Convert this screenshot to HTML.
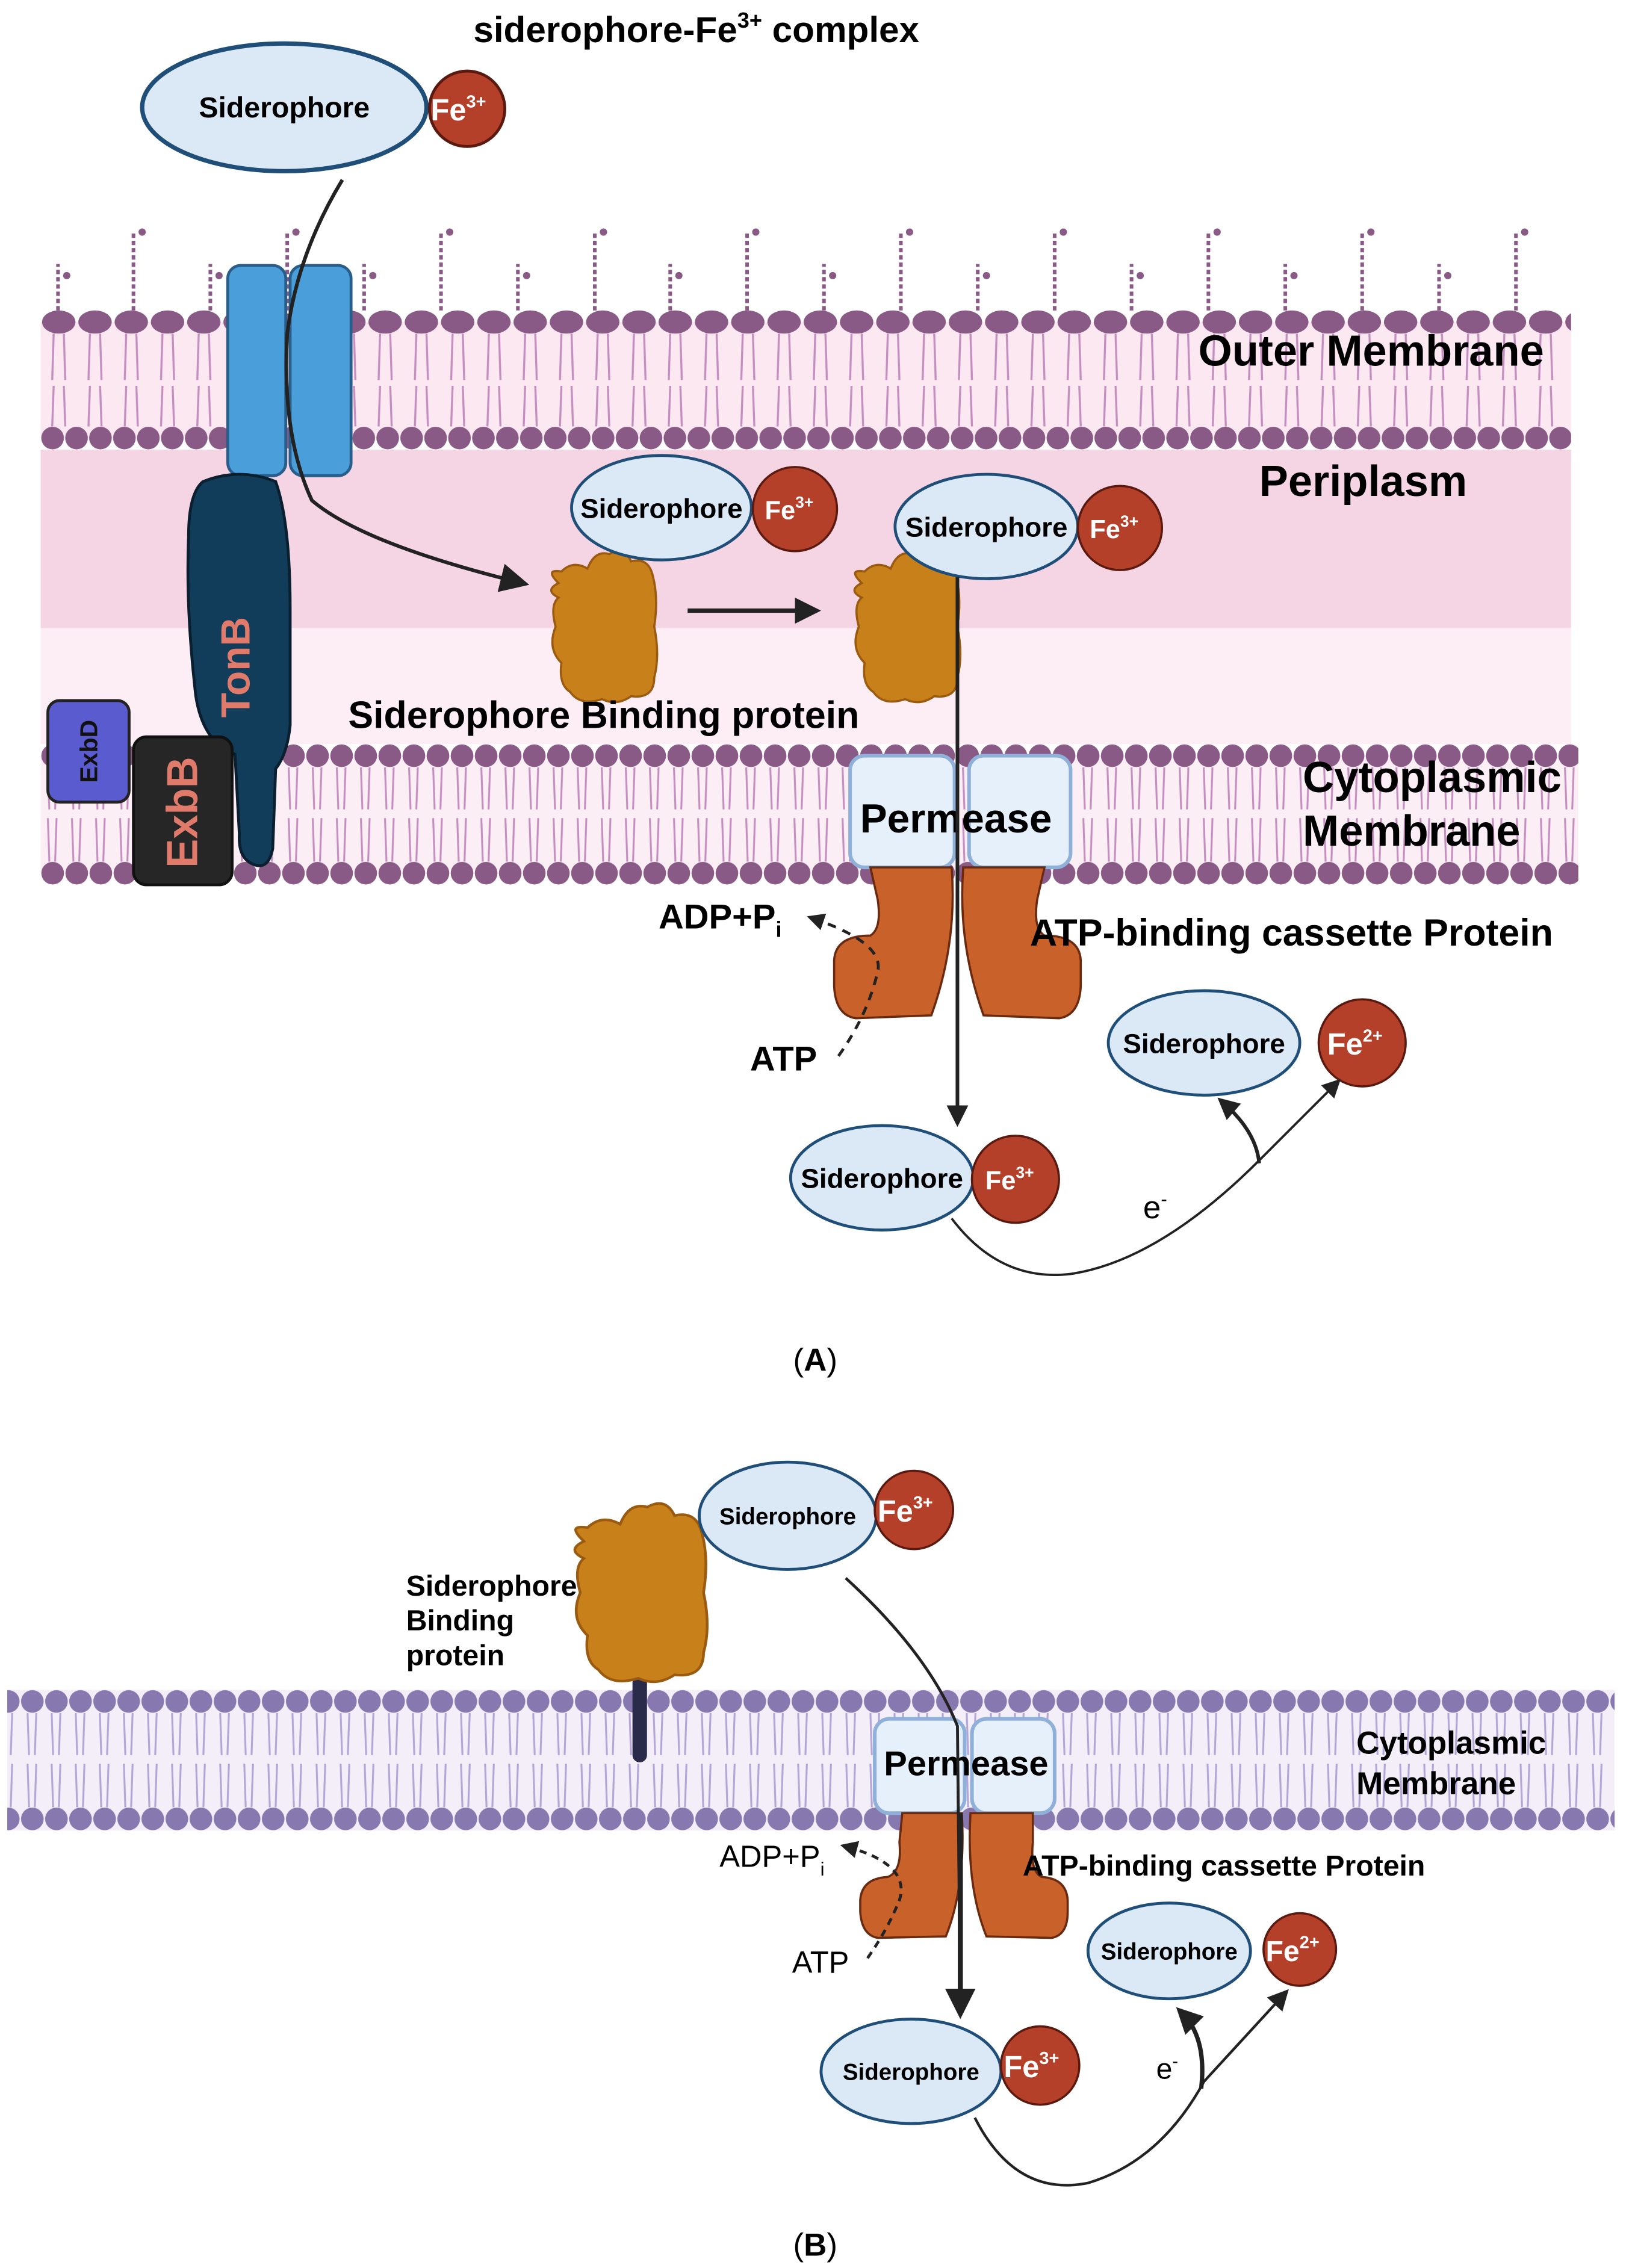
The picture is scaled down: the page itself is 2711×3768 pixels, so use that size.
<!DOCTYPE html>
<html><head><meta charset="utf-8"><style>
html,body{margin:0;padding:0;background:#fff;}
svg{display:block;}
text{font-family:"Liberation Sans",sans-serif;}
</style></head><body>
<svg width="2711" height="3768" viewBox="0 0 1125 1563.6" preserveAspectRatio="none" xmlns="http://www.w3.org/2000/svg">
<defs>
<pattern id="omTop" x="28" y="0" width="25" height="1000" patternUnits="userSpaceOnUse">
<ellipse cx="12.5" cy="222" rx="11.5" ry="8" fill="#8a5a86"/>
<path d="M9 230 L8 262 M16 230 L17 262 M9 266 L8 294 M16 266 L17 294" stroke="#c58ec0" stroke-width="1.4" fill="none"/>
</pattern>
<pattern id="omBot" x="28" y="0" width="16.5" height="1000" patternUnits="userSpaceOnUse">
<circle cx="8.25" cy="302" r="7.8" fill="#8a5a86"/>
</pattern>
<pattern id="cmA" x="28" y="0" width="16.6" height="1000" patternUnits="userSpaceOnUse">
<circle cx="8.3" cy="521" r="7.8" fill="#8a5a86"/>
<circle cx="8.3" cy="602" r="7.8" fill="#8a5a86"/>
<path d="M5 529 L6 558 M11 529 L10 558 M5 564 L6 594 M11 564 L10 594" stroke="#c58ec0" stroke-width="1.3" fill="none"/>
</pattern>
<pattern id="cmB" x="14" y="0" width="16.6" height="1600" patternUnits="userSpaceOnUse">
<circle cx="8.3" cy="1173" r="7.8" fill="#8878b0"/>
<circle cx="8.3" cy="1254" r="7.8" fill="#8878b0"/>
<path d="M5 1181 L6 1210 M11 1181 L10 1210 M5 1216 L6 1246 M11 1216 L10 1246" stroke="#b3a6d6" stroke-width="1.3" fill="none"/>
</pattern>
<path id="blob" d="M -30 -30 Q -40 -40 -28 -38 Q -20 -46 -10 -40 Q -5 -53 5 -50 Q 15 -56 20 -45 Q 32 -48 35 -35 Q 39 -20 36 0 Q 40 20 36 35 Q 36 50 20 48 Q 10 55 0 50 Q -15 55 -22 45 Q -30 40 -28 25 Q -38 15 -32 0 Q -36 -15 -30 -20 Q -40 -25 -30 -30 Z" fill="#c8801a" stroke="#9a5a10" stroke-width="1.5"/>
<marker id="ah" markerWidth="8" markerHeight="8" refX="6" refY="4" orient="auto" markerUnits="strokeWidth"><path d="M0 0 L8 4 L0 8 Z" fill="#222"/></marker>
<marker id="ahs" markerWidth="6" markerHeight="6" refX="4" refY="3" orient="auto" markerUnits="strokeWidth"><path d="M0 0 L6 3 L0 6 Z" fill="#222"/></marker>
</defs>

<!-- ===== PANEL A ===== -->
<text x="480" y="29" font-size="25" font-weight="bold" text-anchor="middle">siderophore-Fe<tspan font-size="15" dy="-10">3+</tspan><tspan dy="10"> complex</tspan></text>
<ellipse cx="196" cy="74" rx="98" ry="44" fill="#dbe9f7" stroke="#1f4e79" stroke-width="3"/>
<text x="196" y="81" font-size="20" font-weight="bold" text-anchor="middle">Siderophore</text>
<circle cx="322" cy="75" r="26" fill="#b5402a" stroke="#5a1a10" stroke-width="2"/>
<text x="316" y="83" font-size="21" font-weight="bold" fill="#fff" text-anchor="middle">Fe<tspan font-size="12" dy="-9">3+</tspan></text>

<!-- LPS -->
<g stroke="#8a5a86" stroke-width="2.5" stroke-dasharray="3 2" fill="none">
<path d="M40 214 V182 M92 214 V160 M145 214 V182 M198 214 V160 M251 214 V182 M304 214 V160 M357 214 V182 M410 214 V160 M462 214 V182 M515 214 V160 M568 214 V182 M621 214 V160 M674 214 V182 M727 214 V160 M780 214 V182 M833 214 V160 M886 214 V182 M939 214 V160 M992 214 V182 M1045 214 V160"/>
</g>
<g fill="#8a5a86">
<circle cx="46" cy="190" r="2.5"/><circle cx="98" cy="160" r="2.5"/><circle cx="151" cy="190" r="2.5"/><circle cx="204" cy="160" r="2.5"/><circle cx="257" cy="190" r="2.5"/><circle cx="310" cy="160" r="2.5"/><circle cx="363" cy="190" r="2.5"/><circle cx="416" cy="160" r="2.5"/><circle cx="468" cy="190" r="2.5"/><circle cx="521" cy="160" r="2.5"/><circle cx="574" cy="190" r="2.5"/><circle cx="627" cy="160" r="2.5"/><circle cx="680" cy="190" r="2.5"/><circle cx="733" cy="160" r="2.5"/><circle cx="786" cy="190" r="2.5"/><circle cx="839" cy="160" r="2.5"/><circle cx="892" cy="190" r="2.5"/><circle cx="945" cy="160" r="2.5"/><circle cx="998" cy="190" r="2.5"/><circle cx="1051" cy="160" r="2.5"/>
</g>

<!-- outer membrane -->
<rect x="28" y="222" width="1055" height="80" fill="#fbe8f1"/>
<rect x="28" y="213" width="1055" height="90" fill="url(#omTop)"/>
<rect x="28" y="293" width="1055" height="18" fill="url(#omBot)"/>
<!-- periplasm -->
<rect x="28" y="310" width="1055" height="123" fill="#f5d5e3"/>
<rect x="28" y="433" width="1055" height="80" fill="#fdeef5"/>
<!-- cytoplasmic membrane -->
<rect x="28" y="521" width="1060" height="81" fill="#fbeef4"/>
<rect x="28" y="512" width="1060" height="100" fill="url(#cmA)"/>

<!-- channel -->
<rect x="157" y="183" width="40" height="145" rx="9" fill="#4a9fdb" stroke="#2a5e8a" stroke-width="2"/>
<rect x="200" y="183" width="42" height="145" rx="9" fill="#4a9fdb" stroke="#2a5e8a" stroke-width="2"/>
<!-- TonB -->
<path d="M140 332 Q165 322 190 332 Q200 360 200 420 L200 500 Q198 520 190 530 L188 585 Q185 600 175 596 Q164 592 165 575 L162 520 Q140 512 135 480 Q128 420 130 370 Q130 340 140 332 Z" fill="#123d5a" stroke="#0a2030" stroke-width="2"/>
<text transform="translate(172,460) rotate(-90)" font-size="28" font-weight="bold" fill="#e07a6a" text-anchor="middle">TonB</text>
<!-- ExbD / ExbB -->
<rect x="33" y="483" width="56" height="70" rx="8" fill="#5b5bd0" stroke="#222" stroke-width="2"/>
<text transform="translate(67,518) rotate(-90)" font-size="17" font-weight="bold" fill="#111" text-anchor="middle">ExbD</text>
<rect x="92" y="508" width="68" height="102" rx="9" fill="#262626" stroke="#111" stroke-width="2"/>
<text transform="translate(136,560) rotate(-90)" font-size="30" font-weight="bold" fill="#e07a6a" text-anchor="middle">ExbB</text>

<!-- path through channel -->
<path d="M236 124 Q205 175 198 230 Q194 300 215 345 Q250 375 360 402" stroke="#222" stroke-width="2.5" fill="none" marker-end="url(#ah)"/>

<text x="826" y="252" font-size="30" font-weight="bold">Outer Membrane</text>
<text x="868" y="342" font-size="30" font-weight="bold">Periplasm</text>
<text x="898" y="546" font-size="30" font-weight="bold">Cytoplasmic</text>
<text x="898" y="583" font-size="30" font-weight="bold">Membrane</text>

<use href="#blob" transform="translate(415,432)"/>
<ellipse cx="456" cy="350" rx="62" ry="36" fill="#dbe9f7" stroke="#1f4e79" stroke-width="2"/>
<text x="456" y="357" font-size="19" font-weight="bold" text-anchor="middle">Siderophore</text>
<circle cx="548" cy="351" r="29" fill="#b5402a" stroke="#5a1a10" stroke-width="1.5"/>
<text x="544" y="358" font-size="18" font-weight="bold" fill="#fff" text-anchor="middle">Fe<tspan font-size="11" dy="-8">3+</tspan></text>

<line x1="474" y1="421" x2="560" y2="421" stroke="#222" stroke-width="3" marker-end="url(#ahs)"/>

<use href="#blob" transform="translate(624,432)"/>
<ellipse cx="680" cy="363" rx="63" ry="36" fill="#dbe9f7" stroke="#1f4e79" stroke-width="2"/>
<text x="680" y="370" font-size="19" font-weight="bold" text-anchor="middle">Siderophore</text>
<circle cx="772" cy="364" r="29" fill="#b5402a" stroke="#5a1a10" stroke-width="1.5"/>
<text x="768" y="371" font-size="18" font-weight="bold" fill="#fff" text-anchor="middle">Fe<tspan font-size="11" dy="-8">3+</tspan></text>

<text x="240" y="502" font-size="26" font-weight="bold">Siderophore Binding protein</text>

<!-- permease -->
<rect x="586" y="521" width="72" height="77" rx="10" fill="#e6f0fb" stroke="#8fb0d8" stroke-width="2.5"/>
<rect x="668" y="521" width="70" height="77" rx="10" fill="#e6f0fb" stroke="#8fb0d8" stroke-width="2.5"/>
<!-- ABC -->
<path d="M600 598 L656 598 Q660 650 642 700 L590 702 Q576 700 575 680 L575 662 Q576 645 600 645 Q608 640 605 620 Z" fill="#c8612a" stroke="#6a2a10" stroke-width="1.5"/>
<path d="M720 598 L664 598 Q660 650 678 700 L730 702 Q744 700 745 680 L745 662 Q744 645 720 645 Q712 640 715 620 Z" fill="#c8612a" stroke="#6a2a10" stroke-width="1.5"/>
<text x="659" y="574" font-size="28" font-weight="bold" text-anchor="middle">Permease</text>
<line x1="660" y1="398" x2="660" y2="772" stroke="#222" stroke-width="2.5" marker-end="url(#ahs)"/>

<text x="454" y="640" font-size="24" font-weight="bold">ADP+P<tspan font-size="15" dy="6">i</tspan></text>
<path d="M578 728 Q598 700 605 670 Q610 650 560 633" stroke="#222" stroke-width="2" stroke-dasharray="6 5" fill="none" marker-end="url(#ahs)"/>
<text x="517" y="738" font-size="24" font-weight="bold">ATP</text>
<text x="710" y="652" font-size="26" font-weight="bold">ATP-binding cassette Protein</text>

<ellipse cx="830" cy="719" rx="66" ry="36" fill="#dbe9f7" stroke="#1f4e79" stroke-width="2"/>
<text x="830" y="726" font-size="19" font-weight="bold" text-anchor="middle">Siderophore</text>
<circle cx="939" cy="719" r="30" fill="#b5402a" stroke="#5a1a10" stroke-width="1.5"/>
<text x="934" y="727" font-size="21" font-weight="bold" fill="#fff" text-anchor="middle">Fe<tspan font-size="12" dy="-9">2+</tspan></text>

<ellipse cx="608" cy="812" rx="63" ry="36" fill="#dbe9f7" stroke="#1f4e79" stroke-width="2"/>
<text x="608" y="819" font-size="19" font-weight="bold" text-anchor="middle">Siderophore</text>
<circle cx="700" cy="813" r="30" fill="#b5402a" stroke="#5a1a10" stroke-width="1.5"/>
<text x="696" y="820" font-size="18" font-weight="bold" fill="#fff" text-anchor="middle">Fe<tspan font-size="11" dy="-8">3+</tspan></text>

<path d="M656 840 Q690 885 740 878 Q800 868 868 800 L922 746" stroke="#222" stroke-width="1.6" fill="none" marker-end="url(#ah)"/>
<path d="M868 802 Q866 780 843 760" stroke="#222" stroke-width="2.5" fill="none" marker-end="url(#ahs)"/>
<text x="788" y="840" font-size="22">e<tspan font-size="13" dy="-9">-</tspan></text>

<text x="562" y="945" font-size="22" font-family="Liberation Serif" text-anchor="middle">(<tspan font-weight="bold">A</tspan>)</text>

<!-- ===== PANEL B ===== -->
<rect x="5" y="1165" width="1108" height="97" fill="#f4eef8"/>
<rect x="5" y="1164" width="1108" height="100" fill="url(#cmB)"/>
<line x1="441" y1="1160" x2="441" y2="1210" stroke="#2a2a4a" stroke-width="10" stroke-linecap="round"/>
<use href="#blob" transform="translate(440,1098) scale(1.25,1.18)"/>
<ellipse cx="543" cy="1045" rx="61" ry="37" fill="#dbe9f7" stroke="#1f4e79" stroke-width="2"/>
<text x="543" y="1051" font-size="16" font-weight="bold" text-anchor="middle">Siderophore</text>
<circle cx="630" cy="1041" r="27" fill="#b5402a" stroke="#5a1a10" stroke-width="1.5"/>
<text x="624" y="1049" font-size="21" font-weight="bold" fill="#fff" text-anchor="middle">Fe<tspan font-size="12" dy="-9">3+</tspan></text>
<text font-size="20" font-weight="bold"><tspan x="280" y="1100">Siderophore</tspan><tspan x="280" y="1124">Binding</tspan><tspan x="280" y="1148">protein</tspan></text>

<rect x="603" y="1185" width="62" height="65" rx="10" fill="#e6f0fb" stroke="#8fb0d8" stroke-width="2.5"/>
<rect x="670" y="1185" width="57" height="65" rx="10" fill="#e6f0fb" stroke="#8fb0d8" stroke-width="2.5"/>
<path d="M622 1250 L663 1250 Q666 1300 652 1335 L605 1336 Q594 1334 593 1318 L593 1310 Q594 1295 612 1294 Q622 1290 620 1270 Z" fill="#c8612a" stroke="#6a2a10" stroke-width="1.5"/>
<path d="M712 1250 L669 1250 Q666 1300 680 1335 L725 1336 Q736 1334 736 1318 L736 1310 Q735 1295 718 1294 Q710 1290 712 1270 Z" fill="#c8612a" stroke="#6a2a10" stroke-width="1.5"/>
<text x="666" y="1224" font-size="24" font-weight="bold" text-anchor="middle">Permease</text>
<path d="M583 1088 Q640 1140 660 1190 L662 1385" stroke="#222" stroke-width="2" fill="none"/>
<line x1="662" y1="1250" x2="662" y2="1385" stroke="#222" stroke-width="3.5" marker-end="url(#ahs)"/>

<text x="935" y="1209" font-size="22" font-weight="bold">Cytoplasmic</text>
<text x="935" y="1237" font-size="22" font-weight="bold">Membrane</text>
<text x="496" y="1287" font-size="21">ADP+P<tspan font-size="13" dy="6">i</tspan></text>
<path d="M598 1350 Q612 1330 620 1310 Q628 1285 583 1273" stroke="#222" stroke-width="2" stroke-dasharray="5 4" fill="none" marker-end="url(#ahs)"/>
<text x="546" y="1360" font-size="21">ATP</text>
<text x="705" y="1293" font-size="20" font-weight="bold">ATP-binding cassette Protein</text>

<ellipse cx="806" cy="1345" rx="56" ry="33" fill="#dbe9f7" stroke="#1f4e79" stroke-width="2"/>
<text x="806" y="1351" font-size="16" font-weight="bold" text-anchor="middle">Siderophore</text>
<circle cx="896" cy="1344" r="25" fill="#b5402a" stroke="#5a1a10" stroke-width="1.5"/>
<text x="891" y="1352" font-size="20" font-weight="bold" fill="#fff" text-anchor="middle">Fe<tspan font-size="12" dy="-9">2+</tspan></text>

<ellipse cx="628" cy="1428" rx="62" ry="36" fill="#dbe9f7" stroke="#1f4e79" stroke-width="2"/>
<text x="628" y="1434" font-size="16" font-weight="bold" text-anchor="middle">Siderophore</text>
<circle cx="717" cy="1424" r="27" fill="#b5402a" stroke="#5a1a10" stroke-width="1.5"/>
<text x="711" y="1432" font-size="21" font-weight="bold" fill="#fff" text-anchor="middle">Fe<tspan font-size="12" dy="-9">3+</tspan></text>

<path d="M672 1460 Q700 1515 750 1505 Q800 1490 830 1435 L886 1374" stroke="#222" stroke-width="1.8" fill="none" marker-end="url(#ah)"/>
<path d="M828 1440 Q832 1405 815 1388" stroke="#222" stroke-width="3" fill="none" marker-end="url(#ahs)"/>
<text x="797" y="1433" font-size="20">e<tspan font-size="12" dy="-8">-</tspan></text>

<text x="562" y="1555" font-size="22" font-family="Liberation Serif" text-anchor="middle">(<tspan font-weight="bold">B</tspan>)</text>
</svg>
</body></html>
